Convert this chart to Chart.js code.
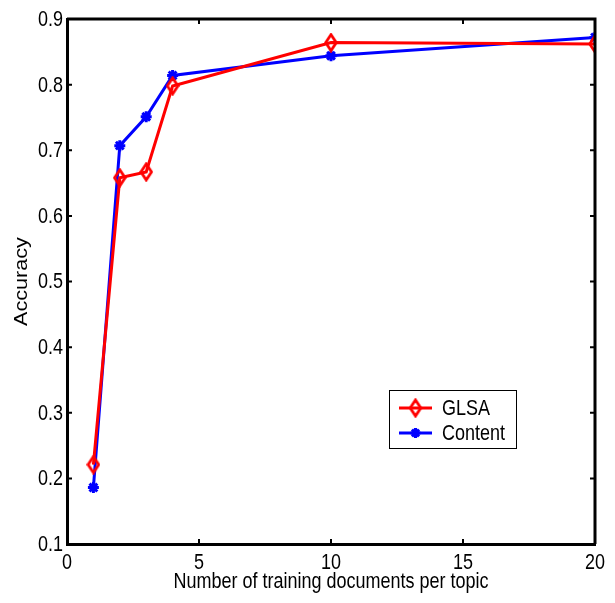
<!DOCTYPE html>
<html>
<head>
<meta charset="utf-8">
<script src="https://cdn.jsdelivr.net/npm/chart.js@4.4.0/dist/chart.umd.min.js"></script>
<style>
  html, body { margin: 0; padding: 0; background: #fff; }
  #wrap { width: 615px; height: 603px; }
</style>
</head>
<body>
<div id="wrap"><canvas id="chartAcc" width="615" height="603"></canvas></div>
<script>
// values
let docsPerTopic = [1, 2, 3, 4, 10, 20];
let glsaAcc = [0.221, 0.658, 0.667, 0.798, 0.864, 0.862];
let contentAcc = [0.186, 0.707, 0.751, 0.814, 0.844, 0.872];
let xTicks = [0, 5, 10, 15, 20];
let yTicks = [0.1, 0.2, 0.3, 0.4, 0.5, 0.6, 0.7, 0.8, 0.9];
let xTitle = 'Number of training documents per topic';
let yTitle = 'Accuracy';

const FONT = 'Liberation Sans, Arial, sans-serif';
const STRETCH = 1.2; // the original text is a bit tall and narrow

// matlab style diamond (a bit taller than wide)
function makeDiamond(color) {
    let c = document.createElement('canvas');
    c.width = 14; c.height = 20;
    let g = c.getContext('2d');
    g.strokeStyle = color;
    g.lineWidth = 2.8;
    g.beginPath();
    g.moveTo(7, 2);
    g.lineTo(12.3, 10);
    g.lineTo(7, 18);
    g.lineTo(1.7, 10);
    g.closePath();
    g.stroke();
    return c;
}
let redDiamond = makeDiamond('#ff0000');

function tallText(ctx, txt, x, y, align, rot) {
    ctx.save();
    ctx.translate(x, y);
    ctx.scale(1, STRETCH);
    if (rot) ctx.rotate(-Math.PI / 2);
    ctx.textAlign = align;
    ctx.textBaseline = 'middle';
    ctx.fillText(txt, 0, 0);
    ctx.restore();
}

// box, inward ticks, labels and legend
const frame = {
    id: 'frame',
    afterDatasetsDraw(chart) {
        let ctx = chart.ctx;
        let a = chart.chartArea;
        let xs = chart.scales.x, ys = chart.scales.y;
        ctx.save();
        ctx.strokeStyle = '#000';
        ctx.lineWidth = 3;
        ctx.beginPath();
        ctx.moveTo(a.left, a.top);
        ctx.lineTo(a.right, a.top);
        ctx.lineTo(a.right, a.bottom);
        ctx.stroke();
        ctx.lineWidth = 2;
        ctx.beginPath();
        xTicks.forEach(v => {
            let px = xs.getPixelForValue(v);
            ctx.moveTo(px, a.bottom); ctx.lineTo(px, a.bottom - 5);
            ctx.moveTo(px, a.top); ctx.lineTo(px, a.top + 5);
        });
        yTicks.forEach(v => {
            let py = ys.getPixelForValue(v);
            ctx.moveTo(a.left, py); ctx.lineTo(a.left + 5, py);
            ctx.moveTo(a.right, py); ctx.lineTo(a.right - 5, py);
        });
        ctx.stroke();

        // tick labels + titles
        ctx.fillStyle = '#000';
        ctx.font = '18px ' + FONT;
        xTicks.forEach(v => {
            tallText(ctx, String(v), xs.getPixelForValue(v), a.bottom + 19, 'center');
        });
        yTicks.forEach(v => {
            tallText(ctx, v.toFixed(1), a.left - 4, ys.getPixelForValue(v) + 1, 'right');
        });
        tallText(ctx, xTitle, (a.left + a.right) / 2, 582, 'center');
        tallText(ctx, yTitle, 22, (a.top + a.bottom) / 2, 'center', true);

        // legend box
        let lx = 389, ly = 390, lw = 127, lh = 58;
        ctx.fillStyle = '#fff';
        ctx.fillRect(lx, ly, lw, lh);
        ctx.strokeStyle = '#000';
        ctx.lineWidth = 1;
        ctx.strokeRect(lx + 0.5, ly + 0.5, lw, lh);
        chart.data.datasets.forEach((ds, i) => {
            let cy = ly + 18 + i * 25;
            ctx.strokeStyle = ds.borderColor;
            ctx.lineWidth = 3;
            ctx.beginPath();
            ctx.moveTo(lx + 10, cy); ctx.lineTo(lx + 43, cy);
            ctx.stroke();
            let cx = lx + 26.5;
            if (ds.pointStyle instanceof HTMLCanvasElement) {
                ctx.drawImage(ds.pointStyle, cx - 7, cy - 10);
            } else {
                ctx.lineWidth = 3;
                ctx.beginPath();
                let r = 5;
                ctx.moveTo(cx - r, cy); ctx.lineTo(cx + r, cy);
                ctx.moveTo(cx, cy - r); ctx.lineTo(cx, cy + r);
                let d = r * 0.707;
                ctx.moveTo(cx - d, cy - d); ctx.lineTo(cx + d, cy + d);
                ctx.moveTo(cx - d, cy + d); ctx.lineTo(cx + d, cy - d);
                ctx.stroke();
            }
            ctx.fillStyle = '#000';
            tallText(ctx, ds.label, lx + 53, cy + 1, 'left');
        });
        ctx.restore();
    }
};

let ctx = document.getElementById('chartAcc');
let accChart = new Chart(ctx, {
    type: 'line',
    data: {
        datasets: [{
            label: 'GLSA',
            data: docsPerTopic.map((x, i) => ({ x: x, y: glsaAcc[i] })),
            borderColor: '#ff0000',
            borderWidth: 3,
            pointStyle: redDiamond,
            pointRadius: 7,
            tension: 0,
            fill: false
        }, {
            label: 'Content',
            data: docsPerTopic.map((x, i) => ({ x: x, y: contentAcc[i] })),
            borderColor: '#0000ff',
            backgroundColor: '#0000ff',
            borderWidth: 3,
            pointStyle: 'star',
            pointRadius: 5.5,
            pointBorderWidth: 3,
            tension: 0,
            fill: false
        }]
    },
    options: {
        responsive: false,
        animation: false,
        events: [],
        layout: { padding: { top: 19, right: 20, left: 0, bottom: 0 } },
        plugins: {
            legend: { display: false },
            tooltip: { enabled: false }
        },
        scales: {
            x: {
                type: 'linear',
                min: 0, max: 20,
                afterBuildTicks: (s) => { s.ticks = xTicks.map(v => ({ value: v })); },
                afterFit: (s) => { s.height = 59; },
                grid: { display: false, drawTicks: false },
                border: { display: true, color: '#000', width: 3 },
                ticks: { display: false }
            },
            y: {
                type: 'linear',
                min: 0.1, max: 0.9,
                afterBuildTicks: (s) => { s.ticks = yTicks.map(v => ({ value: v })); },
                afterFit: (s) => { s.width = 67; },
                grid: { display: false, drawTicks: false },
                border: { display: true, color: '#000', width: 3 },
                ticks: { display: false }
            }
        }
    },
    plugins: [frame]
});
</script>
</body>
</html>
